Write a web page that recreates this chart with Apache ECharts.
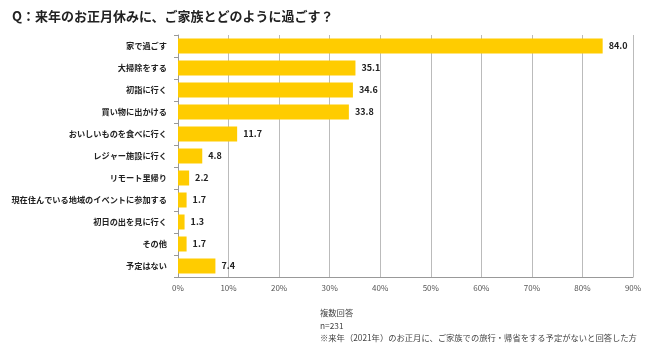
<!DOCTYPE html>
<html>
<head>
<meta charset="utf-8" />
<script src="https://cdn.jsdelivr.net/npm/echarts@6/dist/echarts.min.js"></script>
<style>
  html, body { margin: 0; padding: 0; background: #fff; }
  #chart { width: 650px; height: 352px; }
</style>
</head>
<body>
<div id="chart"></div>
<script>
  var categories = ['家で過ごす', '大掃除をする', '初詣に行く', '買い物に出かける', 'おいしいものを食べに行く',
    'レジャー施設に行く', 'リモート里帰り', '現在住んでいる地域のイベントに参加する', '初日の出を見に行く', 'その他', '予定はない'];
  var values = [84.0, 35.1, 34.6, 33.8, 11.7, 4.8, 2.2, 1.7, 1.3, 1.7, 7.4];
  var titleText = 'Q：来年のお正月休みに、ご家族とどのように過ごす？';
  var notes = ['複数回答', 'n=231', '※来年（2021年）のお正月に、ご家族での旅行・帰省をする予定がないと回答した方'];

  var font = '"Noto Sans CJK JP", "Noto Sans", sans-serif';
  var chart = echarts.init(document.getElementById('chart'));

  chart.setOption({
    animation: false,
    textStyle: { fontFamily: font },
    title: {
      text: titleText,
      left: 7, top: 5,
      textStyle: { fontSize: 13, fontWeight: 'bold', color: '#222', fontFamily: font }
    },
    graphic: notes.map(function (t, i) {
      return {
        type: 'text', left: 320, top: 309 + i * 12.5,
        style: { text: t, fontSize: 8.3, fill: '#444', fontFamily: font }
      };
    }),
    grid: { left: 178, right: 17, top: 35, bottom: 75, outerBoundsMode: 'none', containLabel: false },
    xAxis: {
      type: 'value', min: 0, max: 90, interval: 10,
      axisLine: { show: true, lineStyle: { color: '#999' } },
      axisTick: { show: false },
      axisLabel: { formatter: '{value}%', fontSize: 8, color: '#555', margin: 7 },
      splitLine: { show: true, lineStyle: { color: '#bbb', width: 1 } }
    },
    yAxis: {
      type: 'category', inverse: true, data: categories,
      axisLine: { show: true, lineStyle: { color: '#999' } },
      axisTick: { show: true, length: 4, lineStyle: { color: '#999' } },
      axisLabel: { fontSize: 8.2, fontWeight: 'bold', color: '#222', margin: 11 }
    },
    series: [{
      type: 'bar', data: values, barWidth: 15,
      itemStyle: { color: '#FFCC00' },
      label: {
        show: true, position: 'right', distance: 6,
        formatter: function (p) { return p.value.toFixed(1); },
        fontSize: 9, fontWeight: 'bold', color: '#222'
      }
    }]
  });
</script>
</body>
</html>
